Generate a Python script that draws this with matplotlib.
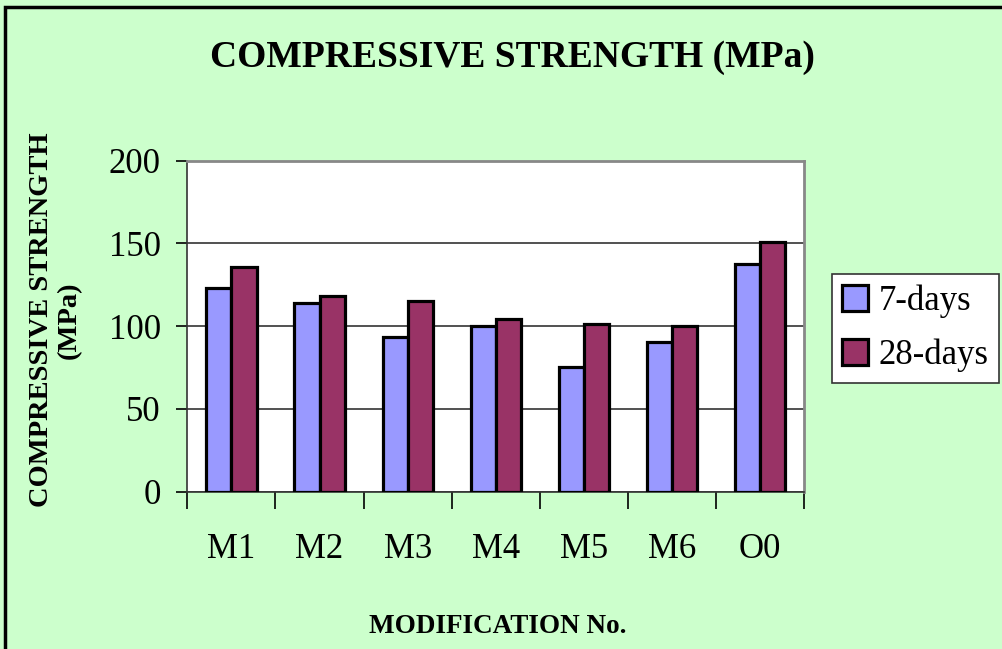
import matplotlib.pyplot as plt
import matplotlib.patches as patches
import numpy as np

mods = ['M1', 'M2', 'M3', 'M4', 'M5', 'M6', 'O0']
days7 = [122.9, 113.8, 93.7, 100.3, 75.5, 90.6, 137.6]
days28 = [136.0, 118.2, 115.4, 104.2, 101.3, 100.1, 151.1]

plt.rcParams['font.family'] = ['Liberation Serif', 'DejaVu Serif']

fig = plt.figure(figsize=(10.02, 6.49), dpi=100)
fig.patch.set_facecolor('#CCFFCC')

# black frame around the chart area (runs off the right and bottom edges)
frame = patches.Rectangle((5 / 1002, -0.1), 1.2, 1 - 7 / 649 + 0.1,
                          transform=fig.transFigure, fill=False,
                          edgecolor='black', linewidth=2.5, clip_on=False)
fig.patches.append(frame)

ax = fig.add_axes([0.187, 0.2424, 0.6156, 0.51])
ax.set_facecolor('white')

x = np.arange(len(mods))
w = 0.285
ax.bar(x - w / 2, days7, w, color='#9999FF', edgecolor='black', linewidth=2.3,
       label='7-days', zorder=3)
ax.bar(x + w / 2, days28, w, color='#993366', edgecolor='black', linewidth=2.3,
       label='28-days', zorder=3)

ax.set_xlim(-0.5, len(mods) - 0.5)
ax.set_ylim(0, 200)
ax.set_yticks([0, 50, 100, 150, 200])
ax.yaxis.grid(True, color='#333333', linewidth=1.2, zorder=0)

# category labels between boundary ticks
ax.set_xticks(np.arange(-0.5, len(mods), 1.0))
ax.set_xticklabels([])
ax.set_xticks(x, minor=True)
ax.set_xticklabels(mods, minor=True, fontsize=25)
ax.tick_params(axis='x', which='minor', length=0, pad=30)
ax.tick_params(axis='x', which='major', length=12, width=1.2, direction='out')
ax.tick_params(axis='y', length=8, width=1.2, direction='out', labelsize=25, pad=11)

for s in ['top', 'right']:
    ax.spines[s].set_color('#888888')
    ax.spines[s].set_linewidth(2)
for s in ['left', 'bottom']:
    ax.spines[s].set_color('#333333')
    ax.spines[s].set_linewidth(1.2)

fig.text(0.511, 0.912, 'COMPRESSIVE STRENGTH (MPa)', ha='center', va='center',
         fontsize=27, fontweight='bold')
fig.text(0.497, 0.034, 'MODIFICATION No.', ha='center', va='center',
         fontsize=19.5, fontweight='bold')
fig.text(0.055, 0.507, 'COMPRESSIVE STRENGTH\n(MPa)', ha='center', va='center',
         rotation=90, fontsize=20.5, fontweight='bold', linespacing=1.15)

leg = fig.legend(loc='upper left', bbox_to_anchor=(832 / 1002, 1 - 274 / 649),
                 fontsize=25, frameon=True, fancybox=False, handlelength=0.75,
                 handleheight=0.75, handletextpad=0.3, borderpad=0.3,
                 labelspacing=0.6, borderaxespad=0)
leg.get_frame().set_edgecolor('#333333')
leg.get_frame().set_linewidth(1.2)
leg.get_frame().set_facecolor('white')
leg.get_frame().set_alpha(1)

plt.savefig('out.png', dpi=100, facecolor=fig.get_facecolor())
